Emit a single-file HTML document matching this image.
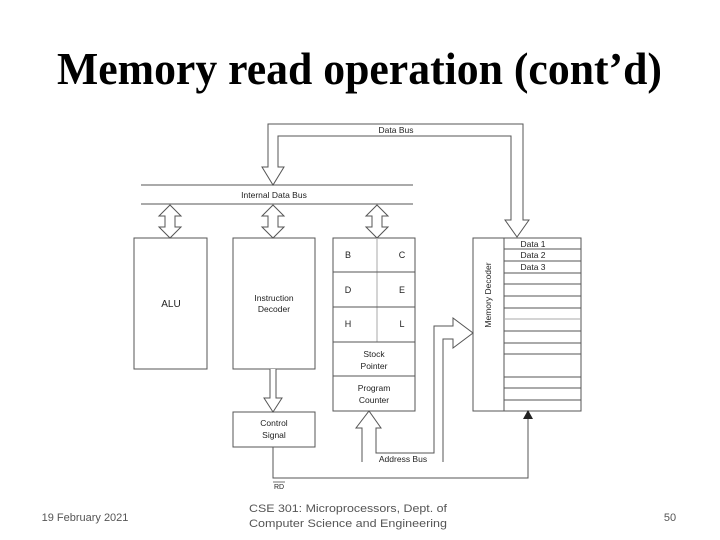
<!DOCTYPE html>
<html><head><meta charset="utf-8"><style>
html,body{margin:0;padding:0;background:#fff;width:720px;height:540px;overflow:hidden}
</style></head><body>
<svg width="720" height="540" xmlns="http://www.w3.org/2000/svg" font-family="Liberation Sans, sans-serif">
<text x="57" y="84" font-family="Liberation Serif, serif" font-weight="bold" font-size="46" textLength="605" lengthAdjust="spacingAndGlyphs">Memory read operation (cont’d)</text>
<g stroke="#555" stroke-width="1" fill="none">
<path d="M262,167 L268,167 L268,124 L523,124 L523,220 L529,220 L517,237 L505,220 L511,220 L511,136 L278,136 L278,167 L284,167 L273,185 Z" fill="#fff"/>
<line x1="141" y1="185" x2="413" y2="185"/>
<line x1="141" y1="204" x2="413" y2="204"/>
<path d="M170,205 L181,216 L175,216 L175,227 L181,227 L170,238 L159,227 L165,227 L165,216 L159,216 Z" fill="#fff"/>
<path d="M273,205 L284,216 L278,216 L278,227 L284,227 L273,238 L262,227 L268,227 L268,216 L262,216 Z" fill="#fff"/>
<path d="M377,205 L388,216 L382,216 L382,227 L388,227 L377,238 L366,227 L372,227 L372,216 L366,216 Z" fill="#fff"/>
<rect x="134" y="238" width="73" height="131"/>
<rect x="233" y="238" width="82" height="131"/>
<rect x="333" y="238" width="82" height="173"/>
<line x1="377" y1="238" x2="377" y2="342" stroke="#aaa"/>
<line x1="333" y1="272" x2="415" y2="272"/>
<line x1="333" y1="307" x2="415" y2="307"/>
<line x1="333" y1="342" x2="415" y2="342"/>
<line x1="333" y1="376" x2="415" y2="376"/>
<rect x="233" y="412" width="82" height="35"/>
<path d="M270,369 L270,398 L264,398 L273,412 L282,398 L276,398 L276,369" fill="#fff"/>
<rect x="473" y="238" width="108" height="173"/>
<line x1="504" y1="238" x2="504" y2="411"/>
<g>
<line x1="504" y1="249" x2="581" y2="249"/><line x1="504" y1="261" x2="581" y2="261"/><line x1="504" y1="273" x2="581" y2="273"/>
<line x1="504" y1="284" x2="581" y2="284"/><line x1="504" y1="296" x2="581" y2="296"/><line x1="504" y1="308" x2="581" y2="308"/>
<line x1="504" y1="319" x2="581" y2="319" stroke="#aaa"/><line x1="504" y1="331" x2="581" y2="331"/><line x1="504" y1="343" x2="581" y2="343"/>
<line x1="504" y1="354" x2="581" y2="354"/><line x1="504" y1="377" x2="581" y2="377"/><line x1="504" y1="388" x2="581" y2="388"/><line x1="504" y1="400" x2="581" y2="400"/>
</g>
<path d="M362,462 L362,428 L356,428 L369,411 L381,428 L376,428 L376,453 L434,453 L434,326 L453,326 L453,318 L473,333 L453,348 L453,339 L443,339 L443,462"/>
<path d="M273,447 L273,478 L528,478 L528,418"/>
</g>
<path d="M523,419 L528,410 L533,419 Z" fill="#222"/>
<g font-size="8.5" fill="#222" text-anchor="middle">
<text x="396" y="133">Data Bus</text>
<text x="274" y="198">Internal Data Bus</text>
<text x="171" y="307" font-size="10">ALU</text>
<text x="274" y="301">Instruction</text><text x="274" y="312">Decoder</text>
<text x="348" y="258" font-size="9">B</text><text x="402" y="258" font-size="9">C</text>
<text x="348" y="293" font-size="9">D</text><text x="402" y="293" font-size="9">E</text>
<text x="348" y="327" font-size="9">H</text><text x="402" y="327" font-size="9">L</text>
<text x="374" y="357">Stock</text><text x="374" y="369">Pointer</text>
<text x="374" y="391">Program</text><text x="374" y="403">Counter</text>
<text x="274" y="426">Control</text><text x="274" y="438">Signal</text>
<text x="403" y="462">Address Bus</text>
<text x="533" y="247">Data 1</text><text x="533" y="258">Data 2</text><text x="533" y="270">Data 3</text>
<text transform="translate(491,295) rotate(-90)">Memory Decoder</text>
<text x="279" y="489" font-size="7">RD</text>
</g>
<line x1="273" y1="482" x2="285" y2="482" stroke="#333" stroke-width="0.7"/>
<g font-size="11" fill="#555" text-anchor="middle" font-family="Liberation Sans Narrow, Liberation Sans, sans-serif">
<text x="85" y="521">19 February 2021</text>
<text x="348" y="512" textLength="198" lengthAdjust="spacingAndGlyphs">CSE 301: Microprocessors, Dept. of</text>
<text x="348" y="527" textLength="198" lengthAdjust="spacingAndGlyphs">Computer Science and Engineering</text>
<text x="670" y="521">50</text>
</g>
</svg>
</body></html>
